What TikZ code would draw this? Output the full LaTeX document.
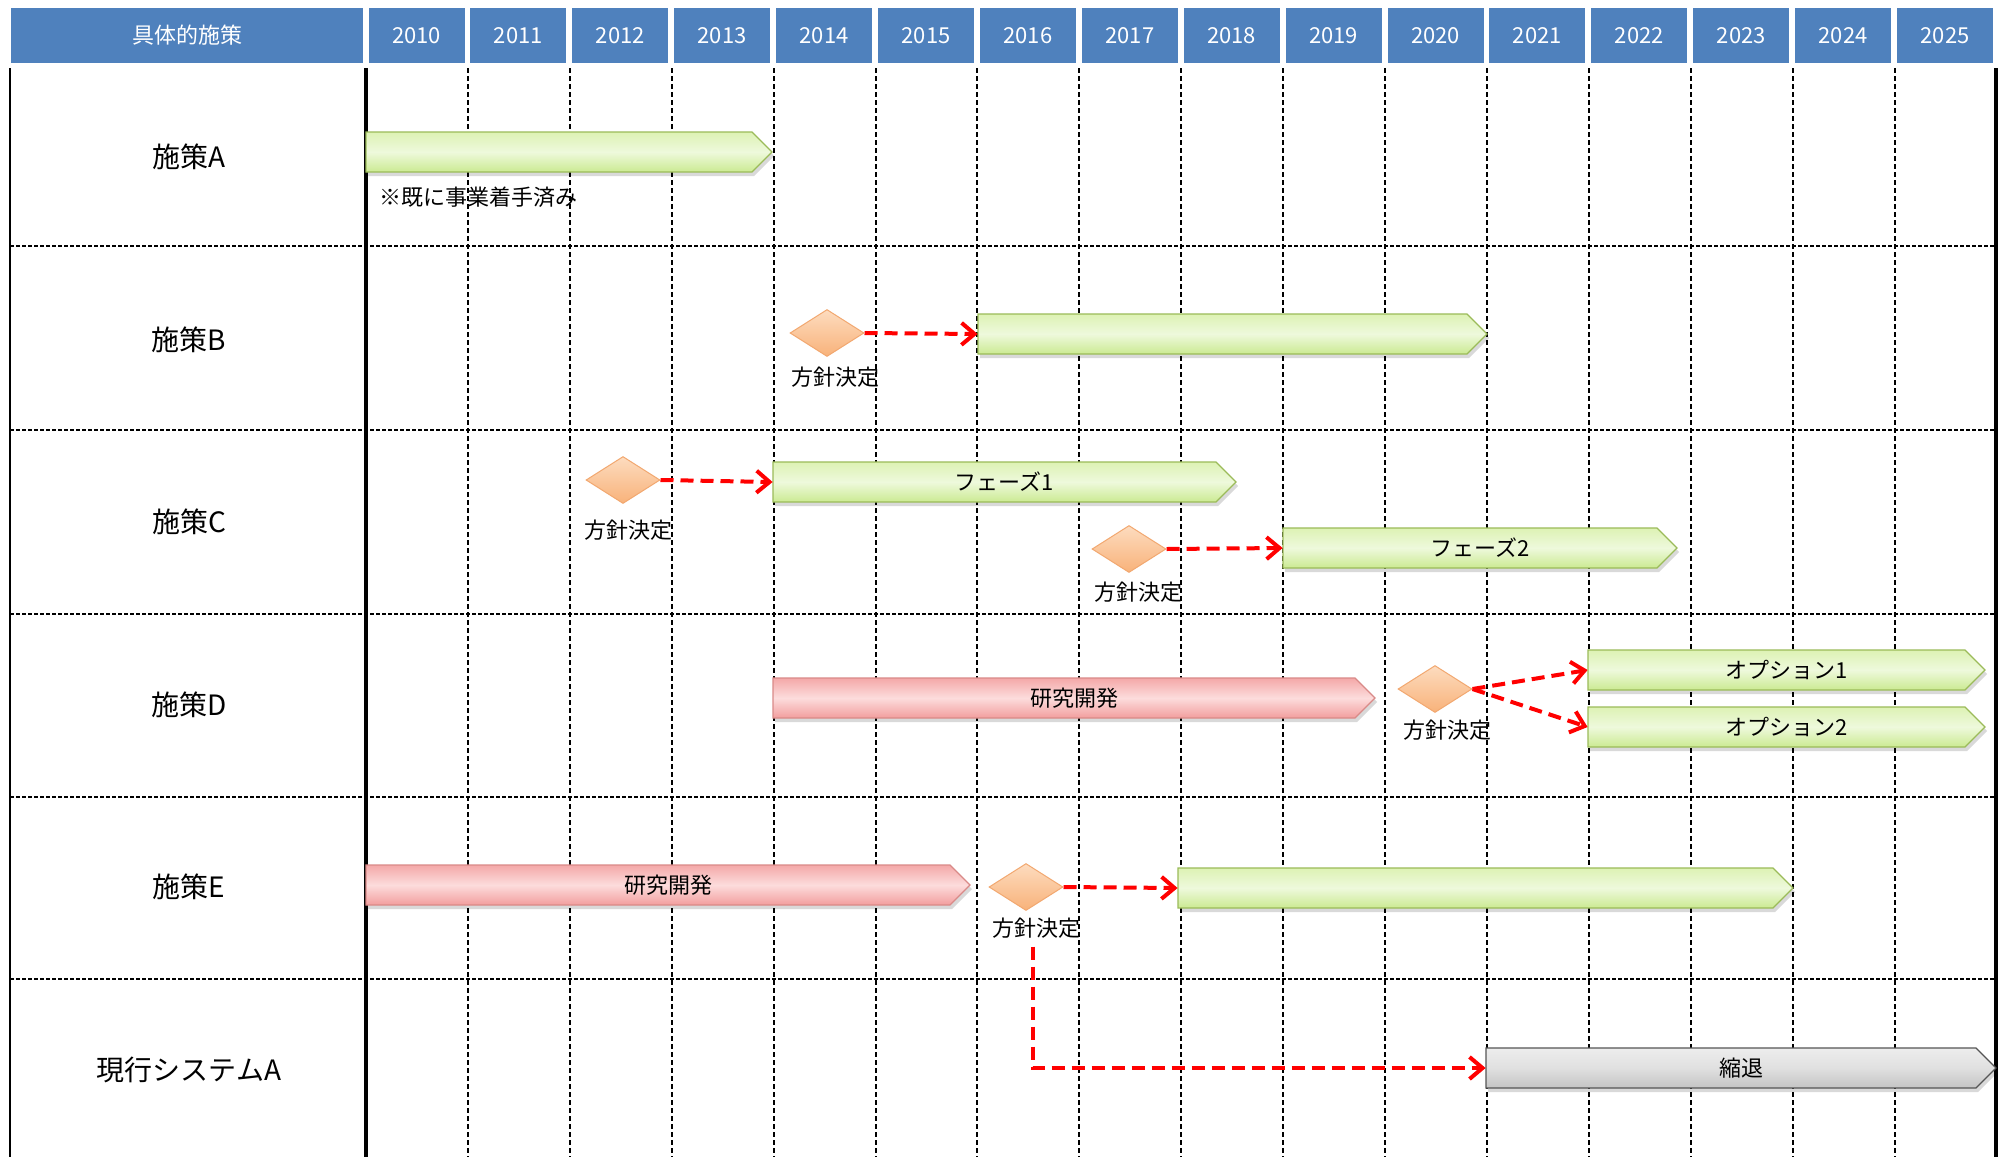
\documentclass[tikz,border=0pt]{standalone}
\usepackage{fontspec}
\setmainfont{Noto Sans CJK JP}
\usetikzlibrary{shapes.geometric,arrows.meta}
\definecolor{hdrblue}{HTML}{4F81BD}
\definecolor{gtop}{HTML}{DDF2B4}
\definecolor{gmid}{HTML}{EEF9DC}
\definecolor{gbot}{HTML}{CBEA92}
\definecolor{gborder}{HTML}{9BBB59}
\definecolor{ptop}{HTML}{F4A8A8}
\definecolor{pmid}{HTML}{FCDCDC}
\definecolor{pbot}{HTML}{F29E9E}
\definecolor{pborder}{HTML}{D98A88}
\definecolor{ytop}{HTML}{EDEDED}
\definecolor{ymid}{HTML}{E0E0E0}
\definecolor{ybot}{HTML}{C4C4C4}
\definecolor{yborder}{HTML}{555555}
\definecolor{dtop}{HTML}{FDDCBF}
\definecolor{dbot}{HTML}{F8B27A}
\definecolor{dborder}{HTML}{F2A870}
\tikzset{
  hdr/.style={fill=hdrblue, text=white, font=\fontsize{11}{13}\selectfont, inner sep=0pt, minimum height=27.5pt},
  rowlbl/.style={font=\fontsize{14}{16}\selectfont, inner sep=0pt},
  smalltxt/.style={font=\fontsize{11}{13}\selectfont, inner sep=0pt},
  gridv/.style={line width=1pt, dash pattern=on 2.5pt off 1.5pt},
  gridh/.style={line width=1pt, dash pattern=on 2pt off 1pt},
  framev/.style={line width=1.6pt},
  greenbar/.style={top color=gtop, bottom color=gbot, middle color=gmid, draw=gborder, line width=0.6pt},
  pinkbar/.style={top color=ptop, bottom color=pbot, middle color=pmid, draw=pborder, line width=0.6pt},
  graybar/.style={top color=ytop, bottom color=ybot, middle color=ymid, draw=yborder, line width=0.6pt},
  dmd/.style={diamond, minimum width=37pt, minimum height=23.5pt, inner sep=0pt, top color=dtop, bottom color=dbot, draw=dborder, line width=0.5pt},
  redarrow/.style={draw=red, line width=2pt, dash pattern=on 6.5pt off 3.5pt, -{Straight Barb[length=6.5pt,width=11pt]}},
}
% #1 name, #2 x start, #3 x tip, #4 y centre, #5 style, #6 text
\newcommand\mkbar[6]{%
  \fill[black, opacity=0.15, xshift=1pt, yshift=-2pt] (#2,#4-20) -- (#3-20,#4-20) -- (#3,#4) -- (#3-20,#4+20) -- (#2,#4+20) -- cycle;
  \path[#5] (#2,#4-20) -- (#3-20,#4-20) -- (#3,#4) -- (#3-20,#4+20) -- (#2,#4+20) -- cycle;
  \node[smalltxt, minimum width={(#3-#2)*0.5pt}, minimum height=20pt] (#1) at ({(#2+#3)/2},#4) {#6};
}
\begin{document}
\begin{tikzpicture}[x=0.5pt, y=-0.5pt]
\useasboundingbox (0,0) rectangle (2002,1157);
\fill[white] (0,0) rectangle (2002,1157);
% header
\node[hdr, minimum width=176pt] (hdrmain) at (187,35.5) {具体的施策};
\foreach \yr [count=\k from 0] in {2010,...,2025}{
  \node[hdr, minimum width=48pt] (h\yr) at ({366+\k*101.9+50.5},35.5) {\yr};
}
% grid
\foreach \k in {1,...,15}{
  \draw[gridv] ({366+\k*101.9},68) -- ({366+\k*101.9},1157);
}
\foreach \yy in {246,430,614,797,979}{
  \draw[gridh] (10,\yy) -- (1996,\yy);
}
\draw[line width=1.3pt] (10,68) -- (10,1157);
\draw[framev] (366,68) -- (366,1157);
\draw[framev] (1996,68) -- (1996,1157);
% row labels
\node[rowlbl] (rA) at (189,157) {施策A};
\node[rowlbl] (rB) at (189,340) {施策B};
\node[rowlbl] (rC) at (189,522) {施策C};
\node[rowlbl] (rD) at (189,705) {施策D};
\node[rowlbl] (rE) at (189,887) {施策E};
\node[rowlbl] (rS) at (189,1070) {現行システムA};
% bars
\mkbar{bA}{366}{772}{152}{greenbar}{}
\mkbar{bB}{978}{1487}{334}{greenbar}{}
\mkbar{bCa}{773}{1236}{482}{greenbar}{フェーズ1}
\mkbar{bCb}{1283}{1677}{548}{greenbar}{フェーズ2}
\mkbar{bD}{773}{1375}{698}{pinkbar}{研究開発}
\mkbar{bOa}{1588}{1985}{670}{greenbar}{オプション1}
\mkbar{bOb}{1588}{1985}{727}{greenbar}{オプション2}
\mkbar{bEa}{366}{970}{885}{pinkbar}{研究開発}
\mkbar{bEb}{1178}{1793}{888}{greenbar}{}
\mkbar{bG}{1486}{1996}{1068}{graybar}{縮退}
\node[smalltxt, anchor=west] (noteA) at (379,197) {※既に事業着手済み};
% diamonds
\node[dmd] (dB) at (827,333) {};
\node[dmd] (dCa) at (623,480) {};
\node[dmd] (dCb) at (1129,549) {};
\node[dmd] (dD) at (1435,689) {};
\node[dmd] (dE) at (1026,887) {};
\node[smalltxt] (lB) at (835,377) {方針決定};
\node[smalltxt] (lCa) at (628,530) {方針決定};
\node[smalltxt] (lCb) at (1138,592) {方針決定};
\node[smalltxt] (lD) at (1447,730) {方針決定};
\node[smalltxt] (lE) at (1036,928) {方針決定};
% arrows
\draw[redarrow] (dB.east) -- (bB.west);
\draw[redarrow] (dCa.east) -- (bCa.west);
\draw[redarrow] (dCb.east) -- (bCb.west);
\draw[redarrow] (dD.east) -- (bOa.west);
\draw[redarrow] (dD.east) -- (bOb.west);
\draw[redarrow] (dE.east) -- (bEb.west);
\draw[redarrow] ([xshift=-1.5pt,yshift=-4pt]lE.south) |- (bG.west);
\end{tikzpicture}
\end{document}
